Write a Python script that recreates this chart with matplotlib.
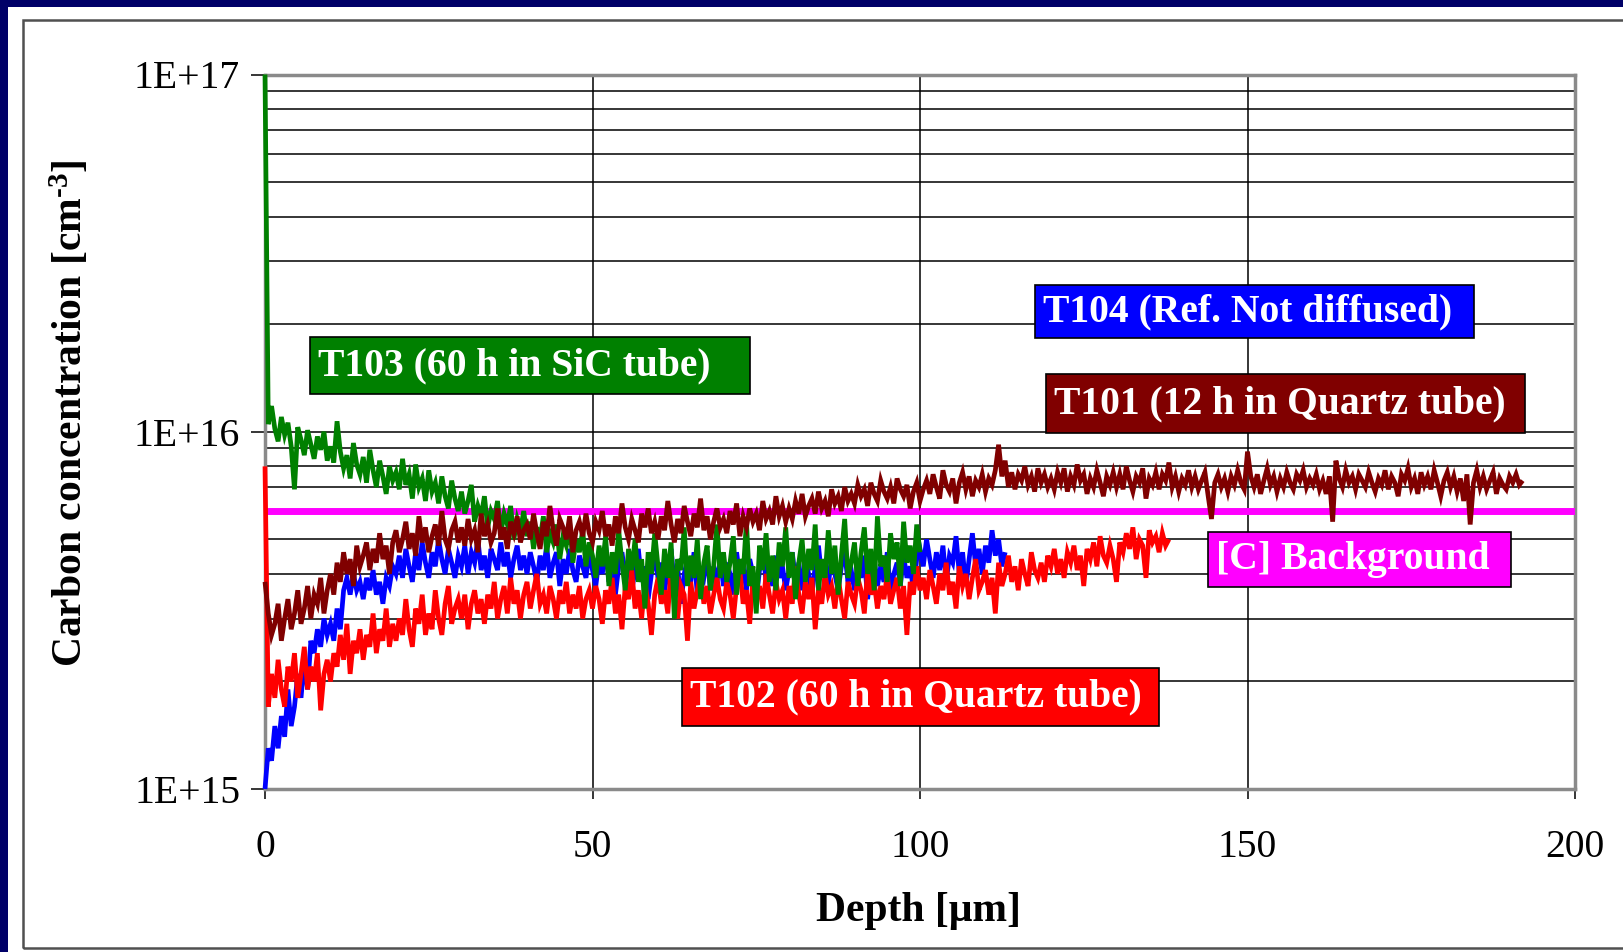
import numpy as np
import matplotlib
matplotlib.use("Agg")
import matplotlib.pyplot as plt
from matplotlib.patches import Rectangle
from matplotlib.ticker import LogLocator, FixedLocator, NullFormatter

plt.rcParams['font.family'] = ['Liberation Serif', 'DejaVu Serif']
plt.rcParams['mathtext.fontset'] = 'custom'
plt.rcParams['mathtext.rm'] = 'Liberation Serif:bold'
plt.rcParams['mathtext.bf'] = 'Liberation Serif:bold'
plt.rcParams['mathtext.it'] = 'Liberation Serif:bold'

# ---------------- data (concentration in units of 1e15 cm^-3) ----------------
DEPTH_STEP = 0.5  # um between SIMS points
SCALE = 1e15

T101 = [
    3.8, 3.1, 2.7, 2.9, 3.3, 2.6, 3.0, 3.4, 2.8, 3.1, 3.6, 2.9, 3.2, 3.7, 3.0, 3.5, 3.3, 3.9, 3.1, 3.6,
    4.0, 3.5, 4.3, 3.8, 4.6, 4.0, 4.4, 3.7, 4.8, 4.2, 4.5, 4.9, 4.1, 4.7, 4.3, 5.2, 4.4, 4.8, 4.0, 4.9,
    5.3, 4.6, 5.0, 5.6, 4.7, 5.2, 4.5, 5.8, 4.9, 5.4, 4.6, 5.1, 5.5, 4.8, 6.0, 5.0, 4.7, 5.3, 5.6, 4.9,
    5.4, 4.8, 5.7, 5.0, 5.3, 4.6, 5.9, 5.1, 5.5, 4.9, 5.2, 6.1, 5.0, 5.4, 4.7, 5.6, 5.2, 5.8, 4.9, 5.3,
    5.5, 5.0, 5.9, 5.2, 4.7, 5.6, 5.1, 6.2, 5.3, 4.8, 5.7, 5.4, 5.0, 5.8, 4.6, 5.3, 5.6, 5.1, 5.9, 5.2,
    4.9, 5.6, 5.3, 6.0, 5.1, 5.5, 4.8, 5.8, 5.2, 6.3, 5.4, 5.0, 5.7, 5.3, 4.9, 5.9, 5.4, 6.1, 5.2, 5.6,
    5.0, 5.8, 5.3, 6.4, 5.5, 4.9, 5.7, 5.2, 6.2, 5.6, 5.1, 5.9, 5.4, 6.5, 5.3, 5.8, 5.0, 5.6, 6.1, 5.4,
    5.7, 5.2, 6.0, 5.5, 6.3, 5.1, 5.8, 5.4, 6.1, 5.6, 5.9, 5.3, 6.4, 5.7, 6.0, 5.5, 6.6, 5.8, 6.2, 5.6,
    6.1, 5.7, 6.4, 5.9, 6.7, 5.8, 6.2, 6.5, 5.9, 6.8, 6.1, 6.4, 5.8, 6.9, 6.3, 6.6, 6.0, 7.0, 6.4, 6.7,
    6.3, 7.1, 6.6, 6.9, 6.2, 7.2, 6.7, 6.4, 7.3, 6.8, 6.5, 7.0, 6.3, 7.4, 6.9, 6.6, 7.1, 6.1, 6.8, 7.2,
    6.4, 6.9, 7.3, 6.7, 7.6, 7.0, 6.5, 7.8, 7.1, 6.8, 7.4, 6.3, 7.2, 7.7, 6.9, 7.5, 6.6, 7.3, 7.0, 7.6,
    6.8, 7.4, 7.1, 7.8, 9.2, 7.5, 8.3, 7.0, 7.7, 6.9, 7.6, 7.3, 8.0, 7.1, 7.5, 6.8, 7.9, 7.2, 7.6, 7.0,
    7.4, 6.9, 7.7, 7.2, 7.9, 6.8, 7.5, 7.1, 8.1, 7.3, 7.6, 6.7, 7.4, 7.0, 7.8, 7.2, 6.6, 7.5, 7.1, 7.7,
    7.0, 7.6, 6.9, 8.0, 7.3, 6.8, 7.5, 7.2, 7.9, 6.5, 7.4, 7.1, 7.7, 6.9, 7.6, 7.3, 8.2, 7.0, 7.5, 6.8,
    7.4, 7.1, 7.8, 7.0, 7.5, 6.9, 7.3, 7.7, 6.6, 5.7, 7.2, 7.6, 7.0, 7.4, 6.8, 7.5, 7.1, 7.8, 7.2, 6.9,
    8.8, 7.5, 7.0, 7.6, 6.7, 7.3, 7.9, 7.1, 7.5, 6.8, 7.4, 7.0, 7.7, 7.2, 6.9, 7.6, 7.3, 7.8, 7.0, 7.4,
    7.1, 7.6, 6.9, 7.3, 6.7, 7.5, 5.6, 8.3, 7.4, 7.0, 7.8, 7.2, 7.5, 6.9, 7.6, 7.3, 7.0, 7.7, 7.2, 6.8,
    7.4, 7.1, 7.8, 6.9, 7.5, 7.2, 6.6, 7.6, 7.3, 7.9, 7.0, 7.4, 6.7, 7.7, 7.1, 7.5, 6.9, 7.8, 7.2, 6.6,
    7.3, 7.7, 7.0, 7.5, 6.8, 7.4, 6.4, 7.6, 5.5, 7.2, 7.8, 7.0, 7.5, 6.9, 7.3, 7.7, 6.7, 7.4, 7.1, 6.9,
    7.5, 7.2, 7.6, 7.1, 7.3,
]

T102 = [
    8.0, 1.7, 2.1, 1.8, 2.3, 1.9, 1.7, 2.2, 2.0, 2.4, 1.8, 2.1, 2.5, 1.9, 2.2, 2.0, 2.4, 1.66, 2.1, 2.3,
    2.0, 2.4, 2.2, 2.7, 2.3, 2.9, 2.1, 2.6, 2.4, 2.8, 2.3, 2.7, 2.5, 3.1, 2.4, 2.8, 2.6, 3.2, 2.5, 2.9,
    2.6, 3.0, 2.7, 3.4, 2.8, 2.5, 3.2, 2.9, 3.5, 2.7, 3.1, 2.8, 3.6, 3.0, 2.7, 3.3, 3.7, 2.9, 3.2, 3.4,
    3.0, 3.5, 2.8, 3.3, 3.6, 3.1, 3.4, 2.9, 3.5, 3.2, 3.8, 3.0, 3.4, 3.7, 3.1, 3.9, 3.3, 3.6, 3.0, 3.5,
    3.8, 3.2, 3.6, 4.0, 3.3, 3.5, 3.1, 3.7, 3.4, 3.0, 3.6, 3.3, 3.8, 3.1, 3.5, 3.2, 3.7, 3.0, 3.4, 3.6,
    3.2, 3.7, 3.4, 2.9, 3.6, 3.3, 3.9, 3.1, 3.5, 2.8, 3.7, 3.4, 4.1, 3.2, 3.6, 3.0, 3.8, 3.3, 2.7, 3.5,
    3.9, 3.3, 3.6, 3.1, 4.2, 3.4, 3.0, 3.7, 3.5, 2.6, 3.8, 3.2, 3.6, 4.0, 3.3, 3.7, 3.1, 3.5, 3.9, 3.4,
    3.2, 3.8, 3.5, 3.0, 3.7, 4.1, 3.3, 3.6, 2.9, 3.9, 3.4, 3.7, 3.2, 4.0, 3.5, 3.1, 3.8, 3.4, 3.6, 3.0,
    3.7, 3.3, 4.2, 3.5, 3.1, 3.8, 3.4, 3.9, 2.8, 3.6, 3.3, 4.0, 3.5, 3.7, 3.2, 3.9, 3.4, 3.0, 3.8, 3.5,
    3.3, 3.9, 3.6, 3.1, 4.1, 3.5, 3.8, 3.2, 3.7, 3.4, 4.0, 3.3, 3.6, 3.9, 3.2, 3.7, 2.7, 3.8, 3.5, 4.2,
    3.6, 3.9, 3.4, 4.1, 3.7, 3.3, 4.0, 3.6, 4.3, 3.5, 3.8, 3.2, 4.2, 3.7, 4.0, 3.4, 3.9, 4.4, 3.6, 3.8,
    4.1, 3.5, 3.9, 3.1, 4.3, 3.7, 4.0, 4.5, 3.8, 4.2, 3.6, 4.4, 4.0, 3.7, 4.6, 4.1, 3.9, 4.3, 3.8, 4.5,
    4.2, 4.7, 4.0, 4.4, 3.9, 4.6, 4.3, 4.8, 4.1, 4.5, 3.7, 4.7, 4.4, 4.9, 4.2, 5.1, 4.5, 4.3, 4.8, 4.4,
    3.8, 4.9, 4.6, 5.2, 4.7, 5.4, 4.4, 5.0, 4.8, 3.9, 5.3, 4.9, 5.1, 4.6, 5.2, 4.8, 5.0,
]

T103 = [
    100, 10.5, 11.8, 10.2, 9.4, 11.0, 9.8, 10.6, 9.1, 6.9, 10.3, 9.5, 8.6, 10.1, 9.2, 8.4, 9.7, 8.9, 10.0, 8.3,
    9.1, 8.2, 10.7, 8.8, 7.9, 8.6, 7.4, 9.3, 8.1, 7.6, 8.5, 7.2, 8.9, 7.8, 7.0, 8.3, 7.5, 6.7, 8.0, 7.3,
    7.7, 6.9, 8.4, 7.1, 7.6, 6.5, 8.1, 7.0, 7.4, 6.4, 7.8, 6.8, 7.2, 6.3, 7.5, 6.6, 6.1, 7.3, 6.5, 6.0,
    6.8, 5.9, 6.4, 7.1, 5.6, 6.2, 5.8, 6.6, 5.4, 6.0, 5.7, 6.4, 5.2, 5.9, 5.5, 6.2, 5.0, 5.7, 5.3, 6.0,
    5.1, 5.6, 4.7, 5.4, 5.0, 5.8, 4.6, 5.2, 4.9, 5.5, 4.4, 5.1, 4.8, 5.6, 4.3, 5.0, 4.6, 5.3, 4.2, 4.9,
    4.5, 3.9, 4.8, 4.2, 5.1, 3.7, 4.6, 4.0, 5.3, 4.3, 3.6, 4.7, 4.1, 5.0, 3.8, 4.4, 3.2, 4.6, 4.0, 5.2,
    4.2, 3.5, 4.7, 3.9, 4.9, 3.0, 4.4, 4.1, 5.4, 3.7, 4.5, 3.9, 5.0, 3.4, 4.3, 4.8, 3.6, 4.2, 5.5, 3.9,
    4.6, 3.8, 4.3, 5.1, 3.5, 4.4, 4.0, 5.6, 3.7, 4.2, 3.1, 4.8, 4.1, 5.2, 3.8, 4.5, 3.6, 4.9, 4.2, 5.4,
    3.9, 4.6, 3.4, 4.3, 5.0, 3.8, 4.7, 4.1, 5.5, 3.6, 4.4, 3.9, 5.3, 4.0, 4.8, 3.5, 4.5, 5.7, 3.9, 4.3,
    4.9, 3.7, 4.6, 5.4, 4.0, 4.7, 3.6, 5.8, 4.2, 4.5, 3.8, 5.2, 4.4, 4.9, 3.7, 5.6, 4.3, 4.8, 4.0, 5.5,
    4.6,
]

T104 = [
    1.0, 1.3, 1.2, 1.5, 1.3, 1.6, 1.4, 1.9, 1.5, 1.7, 2.1, 1.8, 2.3, 1.9, 2.6, 2.4, 2.8, 2.5, 3.0, 2.7,
    2.9, 2.6, 3.2, 2.8, 3.6, 3.9, 3.5, 4.0, 3.6, 3.8, 3.4, 3.9, 3.6, 4.1, 3.5, 3.8, 3.3, 3.9, 3.7, 4.2,
    4.0, 4.5, 3.9, 4.7, 4.2, 3.8, 4.6, 4.1, 4.9, 4.3, 3.9, 4.6, 4.2, 5.0, 4.4, 4.0, 4.7, 4.3, 3.9, 4.5,
    4.2, 4.8, 4.0, 4.6, 4.3, 5.0, 4.1, 4.5, 3.9, 4.7, 4.4, 4.1, 4.9, 4.2, 4.6, 3.9, 4.4, 4.8, 4.1, 4.5,
    4.0, 4.6, 4.2, 3.8, 4.5, 4.1, 4.8, 3.9, 4.3, 4.6, 3.7, 4.4, 4.0, 4.7, 4.1, 3.8, 4.5, 4.2, 3.9, 4.6,
    4.1, 3.7, 4.4, 4.0, 4.8, 3.8, 4.3, 3.5, 4.2, 4.6, 3.9, 4.4, 3.6, 4.1, 4.7, 3.8, 4.2, 3.4, 4.0, 4.5,
    3.9, 4.3, 3.6, 4.1, 4.7, 3.7, 4.2, 3.3, 4.0, 4.4, 3.8, 4.6, 3.5, 4.1, 3.9, 4.5, 3.6, 4.2, 3.8, 4.4,
    3.7, 4.3, 4.0, 3.5, 4.6, 3.9, 4.2, 3.6, 4.4, 4.0, 3.4, 4.1, 4.7, 3.8, 4.3, 3.7, 4.5, 3.9, 4.2, 3.6,
    4.1, 4.6, 3.8, 4.3, 3.6, 4.4, 4.0, 3.5, 4.2, 4.8, 3.9, 4.3, 3.7, 4.5, 4.0, 3.6, 4.2, 4.6, 3.8, 4.1,
    3.6, 4.3, 3.9, 4.5, 3.4, 4.1, 4.4, 3.7, 4.2, 3.8, 4.6, 3.5, 4.0, 4.3, 3.7, 4.5, 3.9, 4.2, 3.6, 4.4,
    4.7, 4.2, 5.0, 4.4, 3.9, 4.6, 4.1, 4.8, 3.8, 4.5, 4.3, 5.1, 4.0, 4.6, 3.7, 4.4, 5.2, 4.2, 4.7, 4.0,
    4.8, 4.3, 5.3, 4.5, 5.0, 4.2, 4.6,
]

BACKGROUND = 6.0          # [C] background level, 1e15 cm^-3
BACKGROUND_RANGE = [0, 200]

LABELS = {
    "T103": "T103 (60 h in SiC tube)",
    "T104": "T104 (Ref. Not diffused)",
    "T101": "T101 (12 h in Quartz tube)",
    "BG": "[C] Background",
    "T102": "T102 (60 h in Quartz tube)",
}
X_TICKS = [0, 50, 100, 150, 200]
Y_TICKS = [1e15, 1e16, 1e17]
Y_TICK_LABELS = ["1E+15", "1E+16", "1E+17"]

COLORS = {"T101": "#800000", "T102": "#ff0000", "T103": "#008000",
          "T104": "#0000ff", "BG": "#ff00ff"}

# ---------------- figure ----------------
W, H = 1623, 952
fig = plt.figure(figsize=(W / 100, H / 100), dpi=100, facecolor="#000068")

def fx(px):
    return px / W

def fy(py):
    return 1 - py / H

# white slide panel and its thin frame
fig.patches.append(Rectangle((fx(8), 0), 1, fy(7), transform=fig.transFigure,
                             facecolor="white", edgecolor="none", zorder=-2))
fig.patches.append(Rectangle((fx(23), fy(948)), fx(1700), fy(20) - fy(948),
                             transform=fig.transFigure, facecolor="none",
                             edgecolor="#505050", lw=1.8, zorder=-1))

ax = fig.add_axes([fx(265), fy(789), fx(1575) - fx(265), fy(74.5) - fy(789)])
ax.set_zorder(2)
ax.set_facecolor("white")
ax.set_yscale("log")
ax.set_xlim(0, 200)
ax.set_ylim(1e15, 1e17)

def depth(vals):
    return np.arange(len(vals)) * DEPTH_STEP

ax.plot(BACKGROUND_RANGE, [BACKGROUND * SCALE] * 2, color=COLORS["BG"], lw=5, zorder=3,
        solid_capstyle="butt")
for key, vals in [("T104", T104), ("T102", T102), ("T103", T103), ("T101", T101)]:
    ax.plot(depth(vals), np.array(vals) * SCALE, color=COLORS[key], lw=3.4, zorder=4,
            solid_joinstyle="miter", solid_capstyle="butt", clip_on=False)

# grid
ax.yaxis.set_major_locator(FixedLocator(Y_TICKS))
ax.yaxis.set_minor_locator(LogLocator(base=10, subs=np.arange(2, 10)))
ax.yaxis.set_minor_formatter(NullFormatter())
ax.set_yticklabels(Y_TICK_LABELS)
ax.set_xticks(X_TICKS)
ax.set_xticklabels([str(t) for t in X_TICKS])
ax.grid(True, which="both", axis="y", color="black", lw=1.1, zorder=1)
ax.grid(True, which="major", axis="x", color="black", lw=1.1, zorder=1)
ax.set_axisbelow(True)

ax.tick_params(axis="y", which="major", direction="out", length=10, width=1.1,
               pad=8, labelsize=28.5, colors="black")
ax.tick_params(axis="y", which="minor", length=0)
ax.tick_params(axis="x", which="major", direction="out", length=7, width=1.1,
               pad=22, labelsize=28.5, colors="black")
for s in ax.spines.values():
    s.set_color("#8a8a8a")
    s.set_linewidth(2.5)
    s.set_zorder(2)

# axis titles
fig.text(fx(70), fy(413), "Carbon concentration [cm$^{\u2010 3}$]", rotation=90,
         ha="center", va="center", fontsize=30, fontweight="bold")
fig.text(fx(918), fy(911), "Depth [\u03bcm]", ha="center", va="center",
         fontsize=30, fontweight="bold")

# coloured label boxes (pixel boxes: x0, y0, x1, y1 from top-left)
boxes = [
    ("T103", (310, 337, 750, 394)),
    ("T104", (1035, 285, 1474, 338)),
    ("T101", (1046, 374, 1525, 433)),
    ("BG", (1208, 532, 1511, 587)),
    ("T102", (682, 668, 1159, 726)),
]
for key, (x0, y0, x1, y1) in boxes:
    fig.patches.append(Rectangle((fx(x0), fy(y1)), fx(x1) - fx(x0), fy(y0) - fy(y1),
                                 transform=fig.transFigure, facecolor=COLORS[key],
                                 edgecolor="black", lw=1.2, zorder=5))
    fig.text(fx(x0 + 8), fy((y0 + y1) / 2), LABELS[key], color="white",
             fontsize=28.5, fontweight="bold", ha="left", va="center", zorder=6)

fig.savefig("out.png", dpi=100, facecolor=fig.get_facecolor())
